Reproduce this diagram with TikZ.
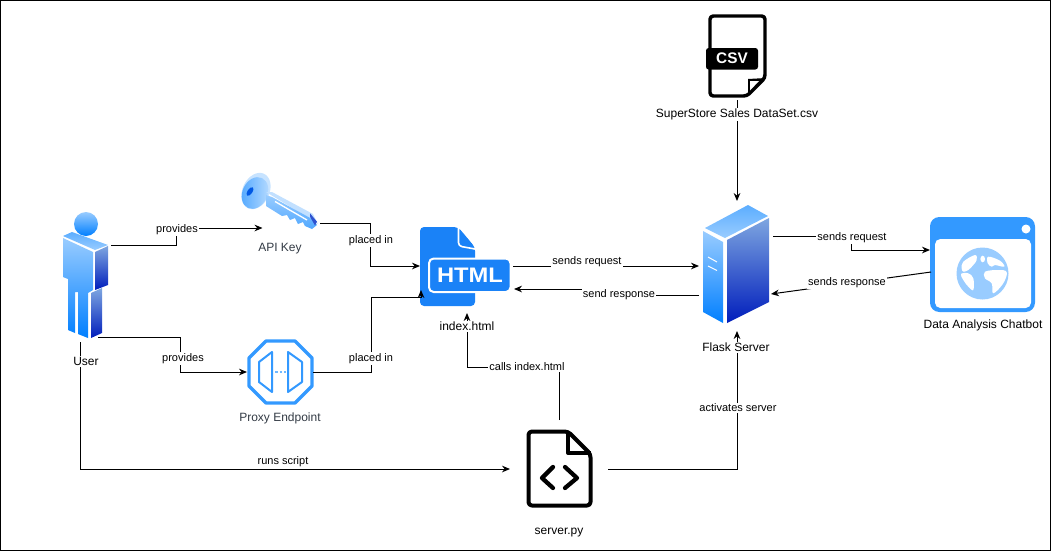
\documentclass[tikz,border=0pt]{standalone}
\usepackage{fontspec}
\setmainfont{Liberation Sans}
\usetikzlibrary{arrows.meta,calc}

\definecolor{iconblue}{HTML}{3399FF}
\definecolor{htmlblue}{HTML}{1A82F7}
\definecolor{lightblue}{HTML}{99CCFF}
\definecolor{midblue}{HTML}{007FFF}
\definecolor{sideblue}{HTML}{7EA6E0}
\definecolor{darkblue}{HTML}{001DBC}
\definecolor{greytext}{HTML}{333B45}

\tikzset{
	iconbox/.style 2 args={minimum width=#1*0.75pt,minimum height=#2*0.75pt,inner sep=0pt,outer sep=0pt},
	frontface/.style={top color=lightblue,bottom color=midblue},
	sideface/.style={top color=sideblue,bottom color=darkblue},
	topface/.style={top color=iconblue!80,bottom color=lightblue},
}

\begin{document}
\begin{tikzpicture}[x=0.75pt,y=-0.75pt,line width=0.75pt]
	\useasboundingbox (0,0) rectangle (1051,551);
	\draw (0.5,0.5) rectangle (1050.5,550.5);

	\begin{scope}
		\node[iconbox={51}{126}] (user) at (85.5,274) {};
		\node[iconbox={79}{53}] (key) at (280.5,201.5) {};
		\node[iconbox={66}{64}] (proxy) at (280,372) {};
		\node[iconbox={93}{78}] (html) at (466.5,266) {};
		\node[iconbox={76}{130}] (flask) at (737,266) {};
		\node[iconbox={60}{85}] (csv) at (737,57.5) {};
		\node[iconbox={105}{95}] (chat) at (982.5,264.5) {};
		\node[iconbox={98}{87}] (server) at (559,463.5) {};
	\end{scope}

	\shade[frontface] (86,224) circle [radius=12];
	\shade[topface] (72,232) -- (108,245) -- (95,250) -- (63,236) -- cycle;
	\shade[frontface] (63,238) -- (93,252) -- (93,290) -- (88,293) -- (88,338) -- (78,334) -- (78,292) -- (75,292) -- (75,333) -- (68,330) -- (68,279) -- (63,277) -- cycle;
	\shade[sideface] (95,252) -- (108,246) -- (108,285) -- (95,290) -- cycle;
	\shade[sideface] (91,293) -- (102,288) -- (102,333) -- (91,338) -- cycle;

	\fill[lightblue!55,rotate around={-25:(256,191)}] (256,191) ellipse [x radius=13.5,y radius=19];
	\shade[left color=iconblue!85,right color=lightblue!70,rotate around={-25:(255,193)}] (255,193) ellipse [x radius=12.5,y radius=16.5];
	\fill[lightblue!60] (266,192) -- (272,192) -- (313,214) -- (318,224) -- (312,220) -- cycle;
	\shade[top color=lightblue,bottom color=iconblue!85] (266,195) -- (272,197) -- (312,219) -- (317,225) -- (312,229) -- (305,226) -- (303,222) -- (298,224) -- (295,218) -- (290,220) -- (287,215) -- (282,216) -- (266,206) -- cycle;
	\draw[white,line width=1pt] (275,201.5) -- (307,220);
	\fill[darkblue!70!lightblue] (310,213.3) -- (317,221.7) -- (315,225.5) -- (310,216.7) -- cycle;
	\fill[darkblue!40!midblue,rotate around={-35:(250,191.5)}] (250,191.5) ellipse [x radius=2.5,y radius=5];

	\draw[iconblue,line width=2.5pt,line join=round] (266,341) -- (295,341) -- (312,358) -- (312,386) -- (295,403) -- (266,403) -- (249,386) -- (249,358) -- cycle;
	\draw[iconblue,line width=1.5pt,line join=round] (272,352) -- (272,392) -- (259,382) -- (259,362) -- cycle;
	\draw[iconblue,line width=1.5pt,line join=round] (288,352) -- (288,392) -- (302,382) -- (302,362) -- cycle;
	\draw[lightblue!60!iconblue,line width=1.5pt,dash pattern=on 2.2pt off 1.2pt] (275,372) -- (286,372);

	\fill[htmlblue,rounded corners=3pt] (420,227) -- (458,227) -- (475,247) -- (475,306) -- (420,306) -- cycle;
	\fill[white] (458,225) -- (477,225) -- (477,247) -- (475,247) -- cycle;
	\draw[white,line width=1.2pt,rounded corners=2.5pt] (458.5,227) -- (458.5,246) -- (475,249);
	\draw[white,fill=htmlblue,line width=1.5pt,rounded corners=3.5pt] (429,258.5) rectangle (510.5,292);
	\node[text=white,font=\bfseries\fontsize{15.75pt}{18pt}\selectfont,inner sep=0pt] (htmltext) at (470,275.5) {\scalebox{1.13}[1]{HTML}};

	\draw[line width=2.6pt,line join=round,rounded corners=2.5pt] (710,16) -- (765,16) -- (765,78) -- (747,96) -- (710,96) -- cycle;
	\fill (748,79) -- (766,78) -- (748,96) -- cycle;
	\fill[white] (750,81) -- (750,90.5) -- (759,81) -- cycle;
	\fill[rounded corners=2pt] (706,48) rectangle (758,69.5);
	\node[text=white,font=\bfseries\fontsize{11.5pt}{13pt}\selectfont,inner sep=0pt] (csvtext) at (732,58.5) {CSV};

	\shade[topface] (748,205) -- (768,216) -- (725,238) -- (705,228) -- cycle;
	\shade[frontface] (703,231) -- (723,242) -- (723,323) -- (703,312) -- cycle;
	\shade[sideface] (727,240) -- (769,218) -- (769,302) -- (727,323) -- cycle;
	\draw[white] (708,257) -- (717,262);
	\draw[white] (708,266) -- (717,270.5);

	\fill[iconblue,rounded corners=7pt] (930,217) rectangle (1035,312);
	\fill[white,rounded corners=4pt] (935,239) rectangle (1031,308);
	\fill[white] (1026,229) circle [radius=4.5];
	\fill[lightblue] (982.5,273.5) circle [radius=26];
	\fill[white] plot[smooth cycle,tension=0.6] coordinates {(963.3,261.7) (975,255) (976.7,260) (973.3,265) (968.3,270) (963.3,271.7) (961.7,268.3)};
	\fill[white] (982.7,259) ellipse [x radius=2.3,y radius=3.3];
	\fill[white] plot[smooth cycle,tension=0.6] coordinates {(988.3,256.7) (1000,260.7) (1004.3,266.7) (995,265) (991.7,266.7) (987.7,263.3)};
	\fill[white] plot[smooth cycle,tension=0.6] coordinates {(961,274) (968.3,273.3) (973.3,278.3) (973.3,290) (968.3,286.7) (963.3,280)};
	\fill[white] plot[smooth cycle,tension=0.6] coordinates {(985,271.7) (998,270) (1006.7,272) (1003.3,283.3) (993.3,293.3) (991.7,283.3) (985,278.3)};

	\draw[line width=3pt,line join=round,rounded corners=2.5pt] (528.5,431.5) -- (568,431.5) -- (590.5,454) -- (590.5,505.5) -- (528.5,505.5) -- cycle;
	\draw[line width=3pt,line join=round] (568,431.5) -- (568,453) -- (590.5,453);
	\draw[line width=3.2pt,line cap=round,line join=round] (553,467) -- (542,478) -- (553,488);
	\draw[line width=3.2pt,line cap=round,line join=round] (565,467) -- (577,478) -- (565,488);

	\begin{scope}[>={Stealth[black,length=6pt,width=5pt]}]
		\draw [->] ($(user.east)+(0,-29)$) -- ++(65.5,0) |- ($(key.south)+(-18,0)$);
		\draw [->] ($(user.south)+(12.5,0)$) -- ++(82,0) |- (proxy.west);
		\draw [->] ($(user.south)+(-5.5,5)$) |- ($(server.west)+(0,5.5)$);
		\draw [->] ($(key.east)+(0,21.5)$) -- ++(50,0) |- (html.west);
		\draw [->] (proxy.east) -- ++(58,0) |- ($(html.west)+(1,31)$) -- ($(html.west)+(1,24)$);
		\draw [->] (html.east) -- (flask.west);
		\draw [->] ($(flask.west)+(0,29)$) -- ++(-92,0) |- ($(html.east)+(1,23)$);
		\draw [->] (server.north) -- ++(0,-53) -| ($(html.south)+(0.5,8)$);
		\draw [->] ($(server.east)+(0,5.5)$) -| (flask.south);
		\draw [->] (csv.south) -- (flask.north);
		\draw [->] ($(flask.east)+(-2,-30)$) -- ++(78,0) |- ($(chat.west)+(0,-14.5)$);
		\draw [->] ($(chat.west)+(1,7.5)$) -- ($(flask.east)+(-4,28)$);
	\end{scope}

	\begin{scope}[every node/.style={fill=white,inner sep=1pt,yshift=-1.1pt,font=\fontsize{8.25pt}{10pt}\selectfont}]
		\node (providesa) at (177,228) {provides};
		\node (providesb) at (183,357) {provides};
		\node (placeda) at (371,239) {placed in};
		\node (placedb) at (371,357) {placed in};
		\node (sendreq) at (587,260) {sends request};
		\node (sendres) at (619,293) {send response};
		\node (calls) at (527,365.5) {calls index.html};
		\node (activates) at (738,406.5) {activates server};
		\node (runs) at (283,460) {runs script};
		\node (chatreq) at (852,236) {sends request};
		\node (chatres) at (847,281) {sends response};
	\end{scope}

	\begin{scope}[every node/.style={fill=white,inner sep=1pt,yshift=-1.1pt,font=\fontsize{9pt}{11pt}\selectfont}]
		\node (userlabel) at (86,360) {User};
		\node[text=greytext] (keylabel) at (280,247) {API Key};
		\node[text=greytext] (proxylabel) at (280,417) {Proxy Endpoint};
		\node (htmllabel) at (467,325) {index.html};
		\node (flasklabel) at (736,346) {Flask Server};
		\node (csvlabel) at (737,113) {SuperStore Sales DataSet.csv};
		\node (chatlabel) at (983,324) {Data Analysis Chatbot};
		\node (serverlabel) at (559,531) {server.py};
	\end{scope}
\end{tikzpicture}
\end{document}
